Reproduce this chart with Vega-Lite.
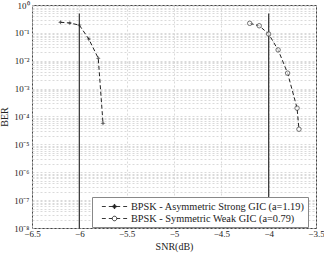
{
  "$schema": "https://vega.github.io/schema/vega-lite/v6.json",
  "width": 284,
  "height": 223,
  "autosize": {"type": "none"},
  "padding": {"left": 32, "top": 5, "right": 8, "bottom": 27},
  "background": "white",
  "config": {
    "font": "Liberation Serif",
    "view": {"stroke": "#444", "strokeWidth": 1},
    "axis": {
      "labelFont": "Liberation Serif",
      "titleFont": "Liberation Serif",
      "labelFontSize": 9,
      "titleFontSize": 10,
      "titleFontWeight": "normal",
      "labelColor": "#222",
      "titleColor": "#222",
      "ticks": false,
      "domain": false,
      "gridColor": "#d0d0d0",
      "gridDash": [2, 2],
      "gridWidth": 0.8
    },
    "legend": {
      "labelFont": "Liberation Serif",
      "labelColor": "#222"
    }
  },
  "datasets": {
    "ber": [
      {"series": "BPSK - Asymmetric Strong GIC (a=1.19)", "snr": -6.2, "ber": 0.24},
      {"series": "BPSK - Asymmetric Strong GIC (a=1.19)", "snr": -6.1, "ber": 0.226},
      {"series": "BPSK - Asymmetric Strong GIC (a=1.19)", "snr": -6.0, "ber": 0.19},
      {"series": "BPSK - Asymmetric Strong GIC (a=1.19)", "snr": -5.9, "ber": 0.06},
      {"series": "BPSK - Asymmetric Strong GIC (a=1.19)", "snr": -5.8, "ber": 0.0123},
      {"series": "BPSK - Asymmetric Strong GIC (a=1.19)", "snr": -5.75, "ber": 0.000057},
      {"series": "BPSK - Symmetric Weak GIC (a=0.79)", "snr": -4.2, "ber": 0.22},
      {"series": "BPSK - Symmetric Weak GIC (a=0.79)", "snr": -4.1, "ber": 0.18},
      {"series": "BPSK - Symmetric Weak GIC (a=0.79)", "snr": -4.0, "ber": 0.091},
      {"series": "BPSK - Symmetric Weak GIC (a=0.79)", "snr": -3.9, "ber": 0.0245},
      {"series": "BPSK - Symmetric Weak GIC (a=0.79)", "snr": -3.8, "ber": 0.0036},
      {"series": "BPSK - Symmetric Weak GIC (a=0.79)", "snr": -3.7, "ber": 0.0002},
      {"series": "BPSK - Symmetric Weak GIC (a=0.79)", "snr": -3.68, "ber": 0.000035}
    ],
    "vlines": [
      {"snr": -6, "top": 0.5, "bottom": 1e-8},
      {"snr": -4, "top": 0.5, "bottom": 1e-8}
    ]
  },
  "layer": [
    {
      "data": {"name": "vlines"},
      "mark": {"type": "rule", "color": "#333", "strokeWidth": 1.2},
      "encoding": {
        "x": {
          "field": "snr", "type": "quantitative",
          "scale": {"domain": [-6.5, -3.5], "nice": false, "zero": false},
          "axis": {
            "values": [-6.5, -6, -5.5, -5, -4.5, -4, -3.5],
            "labelExpr": "replace(toString(datum.value), '-', '−')",
            "title": "SNR(dB)",
            "labelPadding": 1,
            "titlePadding": 3,
            "labelFlush": false
          }
        },
        "y": {
          "field": "top", "type": "quantitative",
          "scale": {"type": "log", "domain": [1e-8, 1], "nice": false},
          "axis": {
            "values": [1e-8,2e-8,3e-8,4e-8,5e-8,6e-8,7e-8,8e-8,9e-8,
                       1e-7,2e-7,3e-7,4e-7,5e-7,6e-7,7e-7,8e-7,9e-7,
                       1e-6,2e-6,3e-6,4e-6,5e-6,6e-6,7e-6,8e-6,9e-6,
                       1e-5,2e-5,3e-5,4e-5,5e-5,6e-5,7e-5,8e-5,9e-5,
                       1e-4,2e-4,3e-4,4e-4,5e-4,6e-4,7e-4,8e-4,9e-4,
                       0.001,0.002,0.003,0.004,0.005,0.006,0.007,0.008,0.009,
                       0.01,0.02,0.03,0.04,0.05,0.06,0.07,0.08,0.09,
                       0.1,0.2,0.3,0.4,0.5,0.6,0.7,0.8,0.9,1],
            "labelExpr": "abs(log(datum.value)/LN10 - round(log(datum.value)/LN10)) > 0.001 ? '' : (round(log(datum.value)/LN10) == 0 ? '10⁰' : round(log(datum.value)/LN10) == -1 ? '10⁻¹' : round(log(datum.value)/LN10) == -2 ? '10⁻²' : round(log(datum.value)/LN10) == -3 ? '10⁻³' : round(log(datum.value)/LN10) == -4 ? '10⁻⁴' : round(log(datum.value)/LN10) == -5 ? '10⁻⁵' : round(log(datum.value)/LN10) == -6 ? '10⁻⁶' : round(log(datum.value)/LN10) == -7 ? '10⁻⁷' : '10⁻⁸')",
            "title": "BER",
            "labelPadding": 3,
            "titlePadding": 4,
            "labelOverlap": false
          }
        },
        "y2": {"field": "bottom"}
      }
    },
    {
      "data": {"name": "ber"},
      "mark": {"type": "line", "color": "#222", "strokeWidth": 1, "strokeDash": [4, 2.5]},
      "encoding": {
        "x": {"field": "snr", "type": "quantitative"},
        "y": {"field": "ber", "type": "quantitative"},
        "detail": {"field": "series"}
      }
    },
    {
      "data": {"name": "ber"},
      "transform": [{"filter": "indexof(datum.series, 'Strong') >= 0"}],
      "mark": {"type": "point", "shape": "M0,-1L0.3,-0.3L1,0L0.3,0.3L0,1L-0.3,0.3L-1,0L-0.3,-0.3Z", "filled": true, "color": "#222", "size": 22},
      "encoding": {
        "x": {"field": "snr", "type": "quantitative"},
        "y": {"field": "ber", "type": "quantitative"}
      }
    },
    {
      "data": {"name": "ber"},
      "transform": [{"filter": "indexof(datum.series, 'Weak') >= 0"}],
      "mark": {"type": "point", "shape": "circle", "filled": true, "fill": "white", "stroke": "#222", "strokeWidth": 0.9, "size": 20},
      "encoding": {
        "x": {"field": "snr", "type": "quantitative"},
        "y": {"field": "ber", "type": "quantitative"}
      }
    },
    {
      "data": {"name": "ber"},
      "mark": {"type": "point", "opacity": 0, "strokeWidth": 0.9},
      "encoding": {
        "x": {"field": "snr", "type": "quantitative"},
        "y": {"field": "ber", "type": "quantitative"},
        "shape": {
          "field": "series", "type": "nominal",
          "scale": {
            "domain": ["BPSK - Asymmetric Strong GIC (a=1.19)", "BPSK - Symmetric Weak GIC (a=0.79)"],
            "range": [
              "M-2.1,0L-1.45,0M-0.95,0L-0.3,0M0.3,0L0.95,0M1.45,0L2.1,0M-0.3,0L0.3,0M0,-0.42L0.13,-0.13L0.42,0L0.13,0.13L0,0.42L-0.13,0.13L-0.42,0L-0.13,-0.13Z",
              "M-2.1,0L-1.45,0M-0.95,0L-0.38,0M0.38,0L0.95,0M1.45,0L2.1,0M0.38,0A0.38,0.38 0 1,1 -0.38,0A0.38,0.38 0 1,1 0.38,0Z"
            ]
          },
          "legend": {
            "title": null,
            "orient": "none",
            "legendX": 60,
            "legendY": 192,
            "strokeColor": "#888",
            "fillColor": "white",
            "padding": 3,
            "rowPadding": 0,
            "symbolSize": 144,
            "symbolOffset": 13,
            "symbolOpacity": 1,
            "symbolStrokeWidth": 0.9,
            "labelOffset": 10,
            "labelFontSize": 10.3,
            "labelLimit": 300
          }
        },
        "fill": {
          "field": "series", "type": "nominal",
          "scale": {
            "domain": ["BPSK - Asymmetric Strong GIC (a=1.19)", "BPSK - Symmetric Weak GIC (a=0.79)"],
            "range": ["#222", "white"]
          },
          "legend": {
            "title": null,
            "orient": "none",
            "legendX": 60,
            "legendY": 192
          }
        },
        "stroke": {
          "field": "series", "type": "nominal",
          "scale": {
            "domain": ["BPSK - Asymmetric Strong GIC (a=1.19)", "BPSK - Symmetric Weak GIC (a=0.79)"],
            "range": ["#222", "#222"]
          },
          "legend": {
            "title": null,
            "orient": "none",
            "legendX": 60,
            "legendY": 192
          }
        }
      }
    }
  ]
}
